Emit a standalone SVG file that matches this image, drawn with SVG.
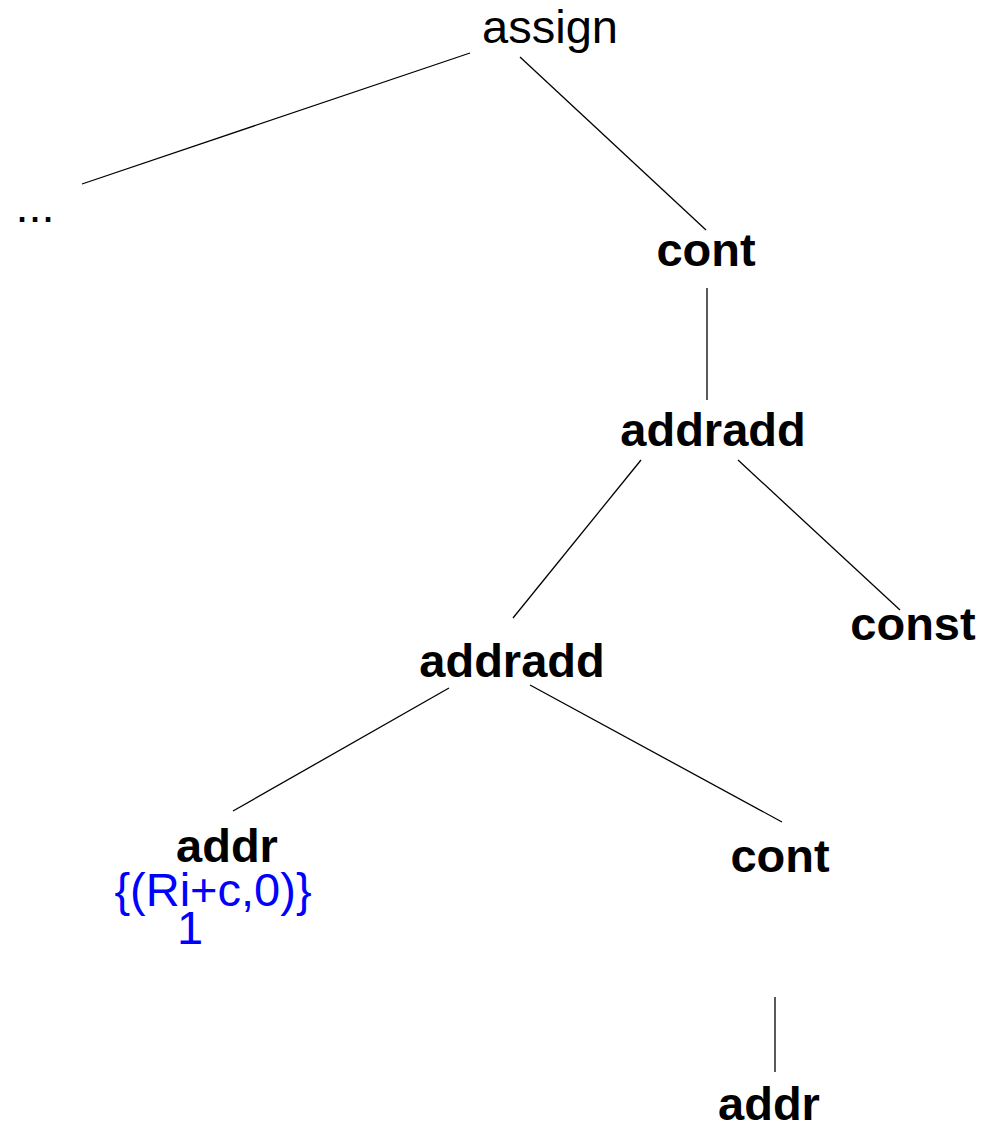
<svg xmlns="http://www.w3.org/2000/svg" width="994" height="1127" viewBox="0 0 994 1127">
<style>
text{font-family:"Liberation Sans",Arial,sans-serif;font-size:47px;text-anchor:middle;fill:#000}
.b{font-weight:bold}
.blue{fill:#0000ff}
.e line{stroke:#000;stroke-width:1.3}
</style>
<rect width="994" height="1127" fill="#fff"/>
<g class="e" id="connectors">
<line x1="470" y1="53" x2="82" y2="184"/>
<line x1="520" y1="57" x2="706" y2="230"/>
<line x1="707" y1="288" x2="707" y2="400"/>
<line x1="641" y1="460" x2="513" y2="618"/>
<line x1="738" y1="460" x2="900" y2="610"/>
<line x1="449" y1="688" x2="233" y2="811"/>
<line x1="530" y1="685" x2="782" y2="822"/>
<line x1="775" y1="997" x2="775" y2="1072"/>
</g>
<g id="assign"><text x="550" y="43">assign</text></g>
<g id="dots"><text x="35" y="222">...</text></g>
<g id="cont1"><text class="b" x="706" y="266">cont</text></g>
<g id="addradd1"><text class="b" x="713" y="446">addradd</text></g>
<g id="const"><text class="b" x="913" y="640">const</text></g>
<g id="addradd2"><text class="b" x="512" y="677">addradd</text></g>
<g id="addr1"><text class="b" x="227" y="862">addr</text><text class="blue" x="213" y="906">{(Ri+c,0)}</text><text class="blue" x="190" y="944">1</text></g>
<g id="cont2"><text class="b" x="780" y="872">cont</text></g>
<g id="addr2"><text class="b" x="769" y="1120">addr</text></g>
</svg>
